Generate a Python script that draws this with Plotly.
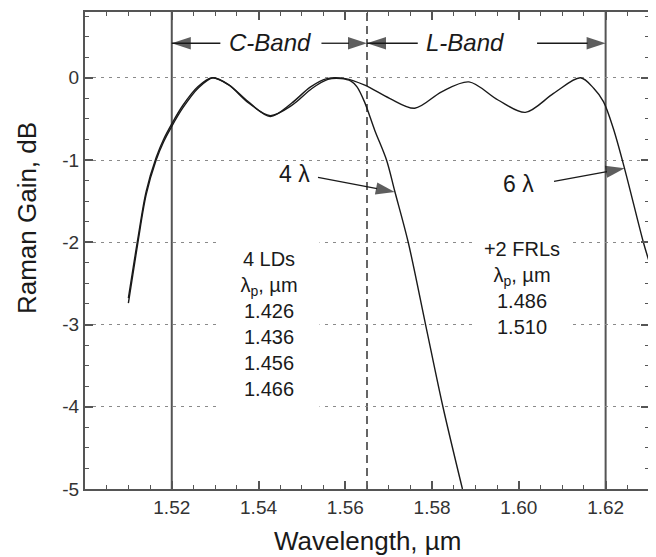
import plotly.graph_objects as go

# ---------------- data ----------------
# 4-wavelength pumping (4 LDs)
wl_4 = [1.5100, 1.5122, 1.5141, 1.5164, 1.5181, 1.5200, 1.5225, 1.5260, 1.5295,
        1.5332, 1.5378, 1.5427, 1.5478, 1.5523, 1.5560, 1.5590, 1.5613, 1.5627,
        1.5644, 1.5668, 1.5695, 1.5714, 1.5745, 1.5785, 1.5825, 1.5870]
gain_4 = [-2.74, -2.00, -1.42, -1.00, -0.78, -0.59, -0.37, -0.13, 0.00,
          -0.09, -0.31, -0.46, -0.33, -0.13, -0.02, -0.01, -0.04, -0.11,
          -0.29, -0.64, -1.00, -1.38, -2.00, -3.00, -4.00, -5.00]

# 6-wavelength pumping (4 LDs + 2 FRLs)
wl_6 = [1.5100, 1.5122, 1.5141, 1.5164, 1.5181, 1.5200, 1.5225, 1.5260, 1.5293,
        1.5330, 1.5376, 1.5427, 1.5476, 1.5520, 1.5558, 1.5600, 1.5645, 1.5702,
        1.5760, 1.5822, 1.5885, 1.5952, 1.6015, 1.6080, 1.6142, 1.6173, 1.6195,
        1.6218, 1.6244, 1.6287, 1.6300]
gain_6 = [-2.68, -1.95, -1.38, -0.97, -0.75, -0.56, -0.34, -0.11, 0.00,
          -0.08, -0.29, -0.47, -0.31, -0.11, -0.01, -0.01, -0.09, -0.25,
          -0.37, -0.17, -0.05, -0.27, -0.42, -0.19, 0.00, -0.13, -0.29,
          -0.62, -1.11, -2.00, -2.23]

x_tick_vals = [1.52, 1.54, 1.56, 1.58, 1.60, 1.62]
y_tick_vals = [0, -1, -2, -3, -4, -5]
band_edges = [1.52, 1.565, 1.62]          # C-band start, C/L boundary, L-band end
lds_pumps = ["1.426", "1.436", "1.456", "1.466"]
frl_pumps = ["1.486", "1.510"]

# ---------------- styling ----------------
FONT = "Liberation Sans, Arial, Helvetica, sans-serif"
FRAME = "#555555"
INK = "#1a1a1a"

fig = go.Figure()

fig.add_trace(go.Scatter(x=wl_4, y=gain_4, mode="lines",
                         line=dict(color=INK, width=1.4, shape="spline", smoothing=0.9),
                         showlegend=False, hoverinfo="skip"))
fig.add_trace(go.Scatter(x=wl_6, y=gain_6, mode="lines",
                         line=dict(color=INK, width=1.4, shape="spline", smoothing=0.9),
                         showlegend=False, hoverinfo="skip"))

# band boundary lines
for i, xv in enumerate(band_edges):
    dashed = (i == 1)
    fig.add_shape(type="line", xref="x", yref="paper", x0=xv, x1=xv, y0=0, y1=1,
                  layer="between",
                  line=dict(color="#333333" if dashed else FRAME,
                            width=1.5 if dashed else 2,
                            dash="8px,5px" if dashed else "solid"))

# arrows (shaft + arrow-head marker); geometry for annotations only
band_y = 0.42
arrow_specs = [
    ((1.5312, band_y), (band_edges[0], band_y)),
    ((1.5545, band_y), (band_edges[1], band_y)),
    ((1.5767, band_y), (band_edges[1], band_y)),
    ((1.6042, band_y), (band_edges[2], band_y)),
    ((1.5537, -1.21), (1.5714, -1.39)),
    ((1.6081, -1.26), (1.6244, -1.10)),
]
for (x0, y0), (x1, y1) in arrow_specs:
    fig.add_trace(go.Scatter(
        x=[x0, x1], y=[y0, y1], mode="lines+markers",
        line=dict(color=INK, width=1.3),
        marker=dict(symbol="arrow", size=[0, 20], color=INK, angleref="previous",
                    line=dict(width=0)),
        showlegend=False, hoverinfo="skip"))

annotations = [
    dict(x=1.5427, y=0.43, text="<i>C-Band</i>", font=dict(size=24, color=INK)),
    dict(x=1.5877, y=0.43, text="<i>L-Band</i>", font=dict(size=24, color=INK)),
    dict(x=1.5484, y=-1.17, text="4 λ", font=dict(size=23, color=INK)),
    dict(x=1.6000, y=-1.29, text="6 λ", font=dict(size=23, color=INK)),
    dict(x=1.5425, y=-2.99,
         text="<br>".join(["4 LDs", "λ<sub>p</sub>, µm"] + lds_pumps),
         font=dict(size=20, color=INK), bgcolor="white", width=98, height=174),
    dict(x=1.6007, y=-2.56,
         text="<br>".join(["+2 FRLs", "λ<sub>p</sub>, µm"] + frl_pumps),
         font=dict(size=20, color=INK), bgcolor="white", width=92, height=108),
]
for a in annotations:
    a.update(xref="x", yref="y", showarrow=False, xanchor="center", yanchor="middle")
    fig.add_annotation(**a)

# axis titles
fig.add_annotation(x=-0.1028, y=0.568, xref="paper", yref="paper", showarrow=False,
                   text="Raman Gain, dB", textangle=-90, xanchor="center", yanchor="middle",
                   font=dict(size=26, color=INK))
fig.add_annotation(x=0.5, y=-0.1086, xref="paper", yref="paper", showarrow=False,
                   text="Wavelength, µm", xanchor="center", yanchor="middle",
                   font=dict(size=26, color=INK))

# the page adds an 8 px body margin, so the figure is sized to fill the rest
fig.update_layout(
    width=648, height=549,
    margin=dict(l=77, r=7, t=2, b=68),
    paper_bgcolor="white", plot_bgcolor="white",
    font=dict(family=FONT, color=INK),
    xaxis=dict(range=[1.50, 1.63], tickmode="array", tickvals=x_tick_vals,
               ticktext=[f"{v:.2f}" for v in x_tick_vals],
               ticks="inside", ticklen=8, tickwidth=1.5, tickcolor=FRAME,
               showline=True, linecolor=FRAME, linewidth=2, mirror="allticks",
               showgrid=False, zeroline=False,
               tickfont=dict(size=19, color="#333333"),
               minor=dict(dtick=0.005, tick0=1.50, ticks="inside", ticklen=4,
                          tickwidth=1, tickcolor=FRAME, showgrid=False)),
    yaxis=dict(range=[-5, 0.8], tickmode="array", tickvals=y_tick_vals,
               ticktext=[str(v) for v in y_tick_vals],
               ticks="inside", ticklen=8, tickwidth=1.5, tickcolor=FRAME,
               showline=True, linecolor=FRAME, linewidth=2, mirror="allticks",
               showgrid=True, gridcolor="#8a8a8a", gridwidth=1, griddash="3px,5px",
               zeroline=False,
               tickfont=dict(size=19, color="#333333"),
               minor=dict(dtick=0.25, tick0=0, ticks="inside", ticklen=4,
                          tickwidth=1, tickcolor=FRAME, showgrid=False)),
)

fig.write_html("out.html")
